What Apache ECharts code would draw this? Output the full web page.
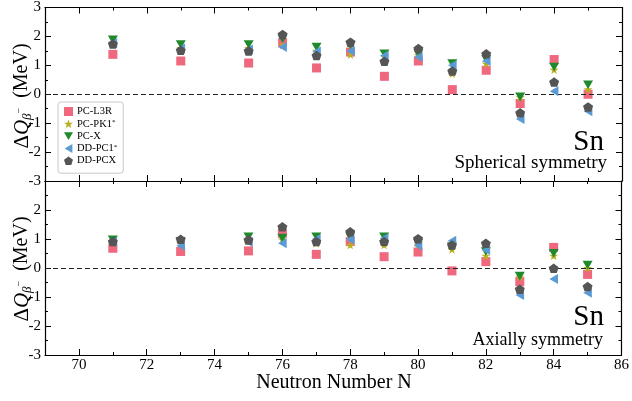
<!DOCTYPE html>
<html><head><meta charset="utf-8">
<script src="https://cdn.jsdelivr.net/npm/echarts@6/dist/echarts.min.js"></script>
<style>html,body{margin:0;padding:0;background:#fff}#c{width:632px;height:401px}</style>
</head><body><div id="c"></div>
<script>
var N = [71,73,75,76,77,78,79,80,81,82,83,84,85];
var seriesNames = ['PC-L3R','PC-PK1*','PC-X','DD-PC1*','DD-PCX'];
// Spherical symmetry panel
var sphL3R  = [1.38,1.15,1.08,1.78,0.91,1.46,0.62,1.15,0.16,0.83,-0.32,1.20,0.00];
var sphPK1  = [1.78,1.60,1.60,1.70,1.50,1.37,1.30,1.35,0.71,1.06,-0.10,0.85,0.17];
var sphX    = [1.88,1.72,1.72,1.92,1.63,1.69,1.40,1.40,1.06,1.21,-0.09,0.94,0.33];
var sphDPC1 = [1.76,1.58,1.55,1.63,1.48,1.50,1.34,1.29,1.00,1.15,-0.86,0.10,-0.59];
var sphDPCX = [1.74,1.52,1.50,2.07,1.34,1.80,1.14,1.58,0.80,1.40,-0.64,0.42,-0.44];
// Axially symmetry panel
var axL3R  = [0.68,0.57,0.59,1.20,0.47,0.91,0.39,0.55,-0.10,0.22,-0.47,0.71,-0.22];
var axPK1  = [0.90,0.85,0.95,0.98,0.85,0.79,0.79,0.80,0.64,0.42,-0.30,0.42,0.00];
var axX    = [0.97,0.92,1.08,1.03,1.08,1.08,1.08,0.85,0.74,0.57,-0.28,0.51,0.10];
var axDPC1 = [0.90,0.77,0.90,0.85,1.00,0.98,1.03,0.78,0.94,0.62,-0.93,-0.38,-0.85];
var axDPCX = [0.91,0.99,0.97,1.42,0.91,1.25,0.91,1.01,0.79,0.85,-0.73,-0.01,-0.64];
var xTicks = [70,72,74,76,78,80,82,84,86];
var yTicks = [-3,-2,-1,0,1,2,3];

var FONT = '"Liberation Serif"';
var colors = ['#f0687e','#b8b020','#1f8a2c','#5b9bd5','#555555'];
var symbols = [
  'rect',
  'path://M0,-10 L2.35,-3.24 L9.51,-3.09 L3.8,1.24 L5.88,8.09 L0,4 L-5.88,8.09 L-3.8,1.24 L-9.51,-3.09 L-2.35,-3.24 Z',
  'path://M-5,-4.3 L5,-4.3 L0,4.3 Z',
  'path://M-4.3,0 L4.3,-5 L4.3,5 Z',
  'path://M0,-10 L9.51,-3.09 L5.88,8.09 L-5.88,8.09 L-9.51,-3.09 Z'
];
var sizes = [9,9,10,10,10];

function pairs(vals){ return N.map(function(n,i){ return [n, vals[i]]; }); }

function xMinor(gi, pos, labels){
  return {gridIndex:gi, type:'value', position:pos, min:69, max:86, interval:1,
    axisLine:{show:true, onZero:false, lineStyle:{color:'#000', width:1.2}},
    axisTick:{show:true, inside:true, length:3, lineStyle:{color:'#000', width:1}},
    axisLabel:{show:labels, margin:3, color:'#000', fontFamily:FONT, fontSize:15,
      formatter:function(v){ return xTicks.indexOf(v) >= 0 ? String(v) : ''; }},
    splitLine:{show:false}};
}
function xMajor(gi, pos){
  return {gridIndex:gi, type:'value', position:pos, min:69, max:86, interval:1,
    axisLine:{show:false, onZero:false},
    axisTick:{show:true, inside:true, length:6, customValues:xTicks, lineStyle:{color:'#000', width:1}},
    axisLabel:{show:false}, splitLine:{show:false}};
}
function yAx(gi, pos, labels, hideTop){
  return {gridIndex:gi, type:'value', position:pos, min:-3, max:3, interval:1,
    axisLine:{show:true, onZero:false, lineStyle:{color:'#000', width:1.2}},
    axisTick:{show:true, inside:true, length:6, lineStyle:{color:'#000', width:1}},
    minorTick:{show:true, splitNumber:2, length:3, lineStyle:{color:'#000', width:1}},
    axisLabel:{show:labels, margin:4, color:'#000', fontFamily:FONT, fontSize:15,
      formatter:function(v){ if (hideTop && v===3) return ''; return String(v); }},
    splitLine:{show:false}};
}

var sphData = [sphL3R, sphPK1, sphX, sphDPC1, sphDPCX];
var axData = [axL3R, axPK1, axX, axDPC1, axDPCX];
var series = [];
[sphData, axData].forEach(function(set, gi){
  set.forEach(function(vals, k){
    var s = {name:seriesNames[k], type:'scatter', xAxisIndex: gi*4, yAxisIndex: gi*2,
      data:pairs(vals), symbol:symbols[k], symbolSize:sizes[k], symbolKeepAspect:true,
      itemStyle:{color:colors[k], opacity:1}, z: 3 + k};
    if (k===0){
      s.markLine = {silent:true, symbol:'none', label:{show:false}, animation:false,
        lineStyle:{type:[5,3], color:'#222', width:1.2}, data:[{yAxis:0}]};
    }
    series.push(s);
  });
});

function yName(cy){
  return {type:'text', x:22, y:cy, rotation:Math.PI/2,
    style:{text:'{a|Δ}{q|Q}{s|β}{m|−}{b|  (MeV)}', align:'center', verticalAlign:'middle', fill:'#000',
      rich:{
        a:{fontFamily:FONT, fontSize:21, verticalAlign:'middle', lineHeight:24},
        q:{fontFamily:FONT, fontSize:21, fontStyle:'italic', verticalAlign:'middle', lineHeight:24},
        s:{fontFamily:FONT, fontSize:13, fontStyle:'italic', verticalAlign:'bottom', lineHeight:24},
        m:{fontFamily:FONT, fontSize:10, verticalAlign:'top', lineHeight:24, padding:[4,0,0,0]},
        b:{fontFamily:FONT, fontSize:20, verticalAlign:'middle', lineHeight:24}
      }}};
}

var chart = echarts.init(document.getElementById('c'), null, {renderer:'canvas'});
chart.setOption({
  animation:false,
  backgroundColor:'#fff',
  grid:[{left:45, right:10, top:7, height:174},{left:45, right:10, top:181, height:174}],
  xAxis:[xMinor(0,'bottom',false), xMajor(0,'bottom'), xMinor(0,'top',false), xMajor(0,'top'),
         xMinor(1,'bottom',true), xMajor(1,'bottom'), xMinor(1,'top',false), xMajor(1,'top')],
  yAxis:[yAx(0,'left',true,false), yAx(0,'right',false,false), yAx(1,'left',true,true), yAx(1,'right',false,false)],
  legend:{orient:'vertical', left:58, top:102, itemWidth:9, itemHeight:9, itemGap:1.3,
    padding:[4,6,7,6], backgroundColor:'#fff', borderColor:'#c8c8c8', borderWidth:1, borderRadius:3,
    data:seriesNames.map(function(n,k){ return {name:n, icon:symbols[k]}; }),
    formatter:function(n){ return n.replace('*','{sup|*}'); },
    textStyle:{fontFamily:FONT, fontSize:10.5, color:'#000', lineHeight:10, padding:[0,0,0,-1],
      rich:{sup:{fontFamily:FONT, fontSize:7, verticalAlign:'top', lineHeight:10}}}},
  graphic:[
    yName(96), yName(269),
    {type:'text', x:334, y:383, style:{text:'Neutron Number N', font:'20px "Liberation Serif"', fill:'#000', align:'center', verticalAlign:'middle'}},
    {type:'text', x:604, y:142, style:{text:'Sn', font:'29px "Liberation Serif"', fill:'#000', align:'right', verticalAlign:'middle'}},
    {type:'text', x:607, y:163, style:{text:'Spherical symmetry', font:'19px "Liberation Serif"', fill:'#000', align:'right', verticalAlign:'middle'}},
    {type:'text', x:604, y:317, style:{text:'Sn', font:'29px "Liberation Serif"', fill:'#000', align:'right', verticalAlign:'middle'}},
    {type:'text', x:603, y:340, style:{text:'Axially symmetry', font:'18px "Liberation Serif"', fill:'#000', align:'right', verticalAlign:'middle'}}
  ],
  series:series
});
</script></body></html>
